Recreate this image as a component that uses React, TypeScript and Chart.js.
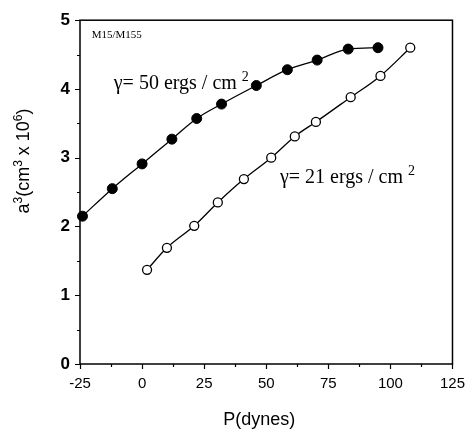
import React, { useEffect, useRef } from "react";
import { Chart, registerables } from "chart.js";

Chart.register(...registerables);

// Applied force P (dynes) and a^3 (cm^3 x 10^6) for the two interfacial tensions
const pHigh = [-24, -12, 0, 12, 22, 32, 46, 58.5, 70.5, 83, 95];
const a3High = [2.15, 2.55, 2.91, 3.27, 3.57, 3.78, 4.05, 4.28, 4.42, 4.58, 4.6];
const pLow = [2, 10, 21, 30.5, 41, 52, 61.5, 70, 84, 96, 108];
const a3Low = [1.37, 1.69, 2.01, 2.35, 2.69, 3.0, 3.31, 3.52, 3.88, 4.19, 4.6];

const xTicks = [-25, 0, 25, 50, 75, 100, 125];
const yTicks = [0, 1, 2, 3, 4, 5];
const xMinorTicks = [-12.5, 12.5, 37.5, 62.5, 87.5, 112.5];
const yMinorTicks = [0.5, 1.5, 2.5, 3.5, 4.5];

const sans = "'Liberation Sans', Arial, sans-serif";
const serif = "'Liberation Serif', 'Times New Roman', serif";

type Part = { t: string; size: number; dy?: number; weight?: string; family: string };

function drawParts(ctx: CanvasRenderingContext2D, parts: Part[], x: number, y: number, align: "left" | "center") {
  let w = 0;
  for (const p of parts) {
    ctx.font = `${p.weight || "normal"} ${p.size}px ${p.family}`;
    w += ctx.measureText(p.t).width;
  }
  let cx = align === "center" ? x - w / 2 : x;
  ctx.textAlign = "left";
  ctx.textBaseline = "alphabetic";
  for (const p of parts) {
    ctx.font = `${p.weight || "normal"} ${p.size}px ${p.family}`;
    ctx.fillText(p.t, cx, y + (p.dy || 0));
    cx += ctx.measureText(p.t).width;
  }
}

const decor = {
  id: "decor",
  beforeDatasetsDraw(chart: any) {
    const { ctx, chartArea: a, scales } = chart;
    const x = scales.x;
    const y = scales.y;
    ctx.save();
    ctx.strokeStyle = "#000";
    ctx.lineWidth = 1.5;
    ctx.strokeRect(a.left, a.top, a.right - a.left, a.bottom - a.top);
    ctx.lineWidth = 1.2;
    ctx.beginPath();
    for (const v of xTicks) {
      const px = Math.round(x.getPixelForValue(v)) + 0.5;
      ctx.moveTo(px, a.bottom);
      ctx.lineTo(px, a.bottom + 5);
    }
    for (const v of xMinorTicks) {
      const px = Math.round(x.getPixelForValue(v)) + 0.5;
      ctx.moveTo(px, a.bottom);
      ctx.lineTo(px, a.bottom + 3);
    }
    for (const v of yTicks) {
      const py = Math.round(y.getPixelForValue(v)) + 0.5;
      ctx.moveTo(a.left, py);
      ctx.lineTo(a.left - 5, py);
    }
    for (const v of yMinorTicks) {
      const py = Math.round(y.getPixelForValue(v)) + 0.5;
      ctx.moveTo(a.left, py);
      ctx.lineTo(a.left - 3, py);
    }
    ctx.stroke();
    ctx.restore();
  },
  afterDraw(chart: any) {
    const { ctx, chartArea: a, scales } = chart;
    const x = scales.x;
    const y = scales.y;
    ctx.save();
    ctx.fillStyle = "#000";

    // sample label
    drawParts(ctx, [{ t: "M15/M155", size: 11, family: serif }], x.getPixelForValue(-20.3), y.getPixelForValue(4.74), "left");

    // tension labels
    drawParts(
      ctx,
      [
        { t: "\u03B3= 50 ergs / cm ", size: 20, family: serif },
        { t: "2", size: 14, dy: -8, family: serif },
      ],
      x.getPixelForValue(-11.4),
      y.getPixelForValue(4.0),
      "left"
    );
    drawParts(
      ctx,
      [
        { t: "\u03B3= 21 ergs / cm ", size: 20, family: serif },
        { t: "2", size: 14, dy: -8, family: serif },
      ],
      x.getPixelForValue(55.5),
      y.getPixelForValue(2.63),
      "left"
    );

    // x axis title
    drawParts(ctx, [{ t: "P(dynes)", size: 18, family: sans }], (a.left + a.right) / 2 - 7, 425, "center");

    // y axis title
    ctx.translate(23, 161);
    ctx.rotate(-Math.PI / 2);
    drawParts(
      ctx,
      [
        { t: "a", size: 18, family: sans },
        { t: "3", size: 12, dy: -7, family: sans },
        { t: "(cm", size: 18, family: sans },
        { t: "3", size: 12, dy: -7, family: sans },
        { t: " x 10", size: 18, family: sans },
        { t: "6", size: 12, dy: -7, family: sans },
        { t: ")", size: 18, family: sans },
      ],
      0,
      6,
      "center"
    );
    ctx.restore();
  },
};

export default function App() {
  const canvasRef = useRef<HTMLCanvasElement | null>(null);

  useEffect(() => {
    const canvas = canvasRef.current;
    if (!canvas) return;
    const chart = new Chart(canvas, {
      type: "line",
      data: {
        datasets: [
          {
            label: "\u03B3 = 50 ergs / cm2",
            data: pHigh.map((p, i) => ({ x: p, y: a3High[i] })),
            borderColor: "#000",
            borderWidth: 1.3,
            pointRadius: 5,
            pointBackgroundColor: "#000",
            pointBorderColor: "#000",
            pointBorderWidth: 1,
            cubicInterpolationMode: "monotone",
            clip: false,
          },
          {
            label: "\u03B3 = 21 ergs / cm2",
            data: pLow.map((p, i) => ({ x: p, y: a3Low[i] })),
            borderColor: "#000",
            borderWidth: 1.3,
            pointRadius: 4.5,
            pointBackgroundColor: "#fff",
            pointBorderColor: "#000",
            pointBorderWidth: 1.3,
            cubicInterpolationMode: "monotone",
            clip: false,
          },
        ],
      },
      options: {
        responsive: false,
        animation: false,
        layout: { padding: { top: 15, right: 10, left: 0, bottom: 0 } },
        plugins: { legend: { display: false }, tooltip: { enabled: false } },
        scales: {
          x: {
            type: "linear",
            min: -25,
            max: 125,
            afterBuildTicks: (s: any) => {
              s.ticks = xTicks.map((v) => ({ value: v }));
            },
            afterFit: (s: any) => {
              s.height = 68;
            },
            grid: { display: false, drawTicks: false },
            border: { display: false },
            ticks: {
              padding: 11,
              color: "#000",
              maxRotation: 0,
              autoSkip: false,
              font: { family: sans, size: 15 },
            },
          },
          y: {
            type: "linear",
            min: 0,
            max: 5,
            afterBuildTicks: (s: any) => {
              s.ticks = yTicks.map((v) => ({ value: v }));
            },
            afterFit: (s: any) => {
              s.width = 80;
            },
            grid: { display: false, drawTicks: false },
            border: { display: false },
            ticks: {
              padding: 10,
              color: "#000",
              autoSkip: false,
              font: { family: sans, size: 17, weight: "bold" },
            },
          },
        },
      },
      plugins: [decor],
    } as any);
    return () => chart.destroy();
  }, []);

  return (
    <div style={{ position: "absolute", left: 0, top: 0, width: 476, height: 432, background: "#fff" }}>
      <canvas ref={canvasRef} width={476} height={432} />
    </div>
  );
}
